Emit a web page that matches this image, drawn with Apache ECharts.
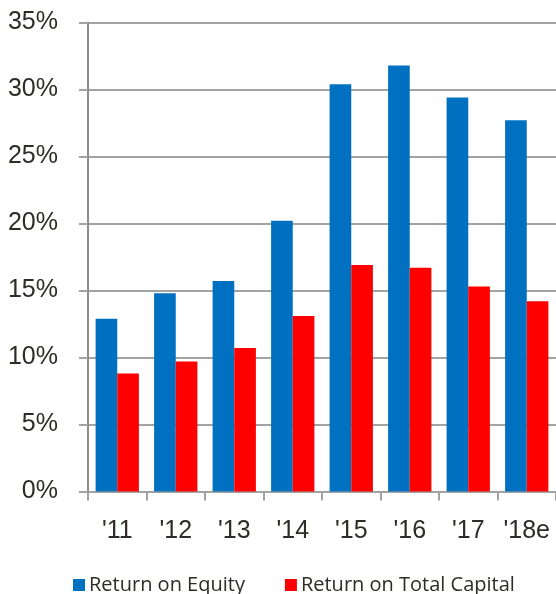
<!DOCTYPE html>
<html>
<head>
<meta charset="utf-8">
<script src="https://cdn.jsdelivr.net/npm/echarts@6/dist/echarts.min.js"></script>
<style>
  html, body { margin: 0; padding: 0; background: #fff; }
  #chart { width: 556px; height: 594px; }
</style>
</head>
<body>
<div id="chart"></div>
<script>
// Fiscal years shown on the category axis
const years = ["'11", "'12", "'13", "'14", "'15", "'16", "'17", "'18e"];
// Returns in percent
const returnOnEquity = [12.9, 14.8, 15.7, 20.2, 30.4, 31.8, 29.4, 27.7];
const returnOnTotalCapital = [8.8, 9.7, 10.7, 13.1, 16.9, 16.7, 15.3, 14.2];
const seriesNames = ['Return on Equity', 'Return on Total Capital'];

const textColor = '#2f2b27';
const lineColor = '#a3a3a3';

const chart = echarts.init(document.getElementById('chart'), null, { renderer: 'canvas' });
chart.setOption({
  animation: false,
  backgroundColor: '#ffffff',
  grid: { left: 88, top: 22.5, width: 470, bottom: 102.5, containLabel: false },
  legend: {
    data: seriesNames,
    left: 68,
    top: 570,
    itemWidth: 12,
    itemHeight: 12,
    itemGap: 40,
    icon: 'rect',
    textStyle: { fontFamily: 'Open Sans', fontSize: 20, color: textColor, padding: [0, 0, 0, -1] }
  },
  xAxis: {
    type: 'category',
    data: years,
    axisLine: { lineStyle: { color: lineColor, width: 2 } },
    axisTick: { show: true, length: 9, interval: 0, lineStyle: { color: lineColor, width: 2 } },
    axisLabel: { interval: 0, margin: 27, fontFamily: 'Liberation Sans', fontSize: 25, color: textColor }
  },
  yAxis: {
    type: 'value',
    min: 0,
    max: 35,
    interval: 5,
    axisLine: { show: true, lineStyle: { color: '#8c8c8c', width: 2 } },
    axisTick: { show: true, length: 9, lineStyle: { color: lineColor, width: 2 } },
    splitLine: { lineStyle: { color: lineColor, width: 2 } },
    axisLabel: { margin: 30, formatter: '{value}%', fontFamily: 'Liberation Sans', fontSize: 25, color: textColor }
  },
  series: [
    {
      name: seriesNames[0],
      type: 'bar',
      data: returnOnEquity,
      barGap: '0%',
      barCategoryGap: '26%',
      itemStyle: { color: '#0070c0' }
    },
    {
      name: seriesNames[1],
      type: 'bar',
      data: returnOnTotalCapital,
      barGap: '0%',
      barCategoryGap: '26%',
      itemStyle: { color: '#ff0000' }
    }
  ]
});
</script>
</body>
</html>
